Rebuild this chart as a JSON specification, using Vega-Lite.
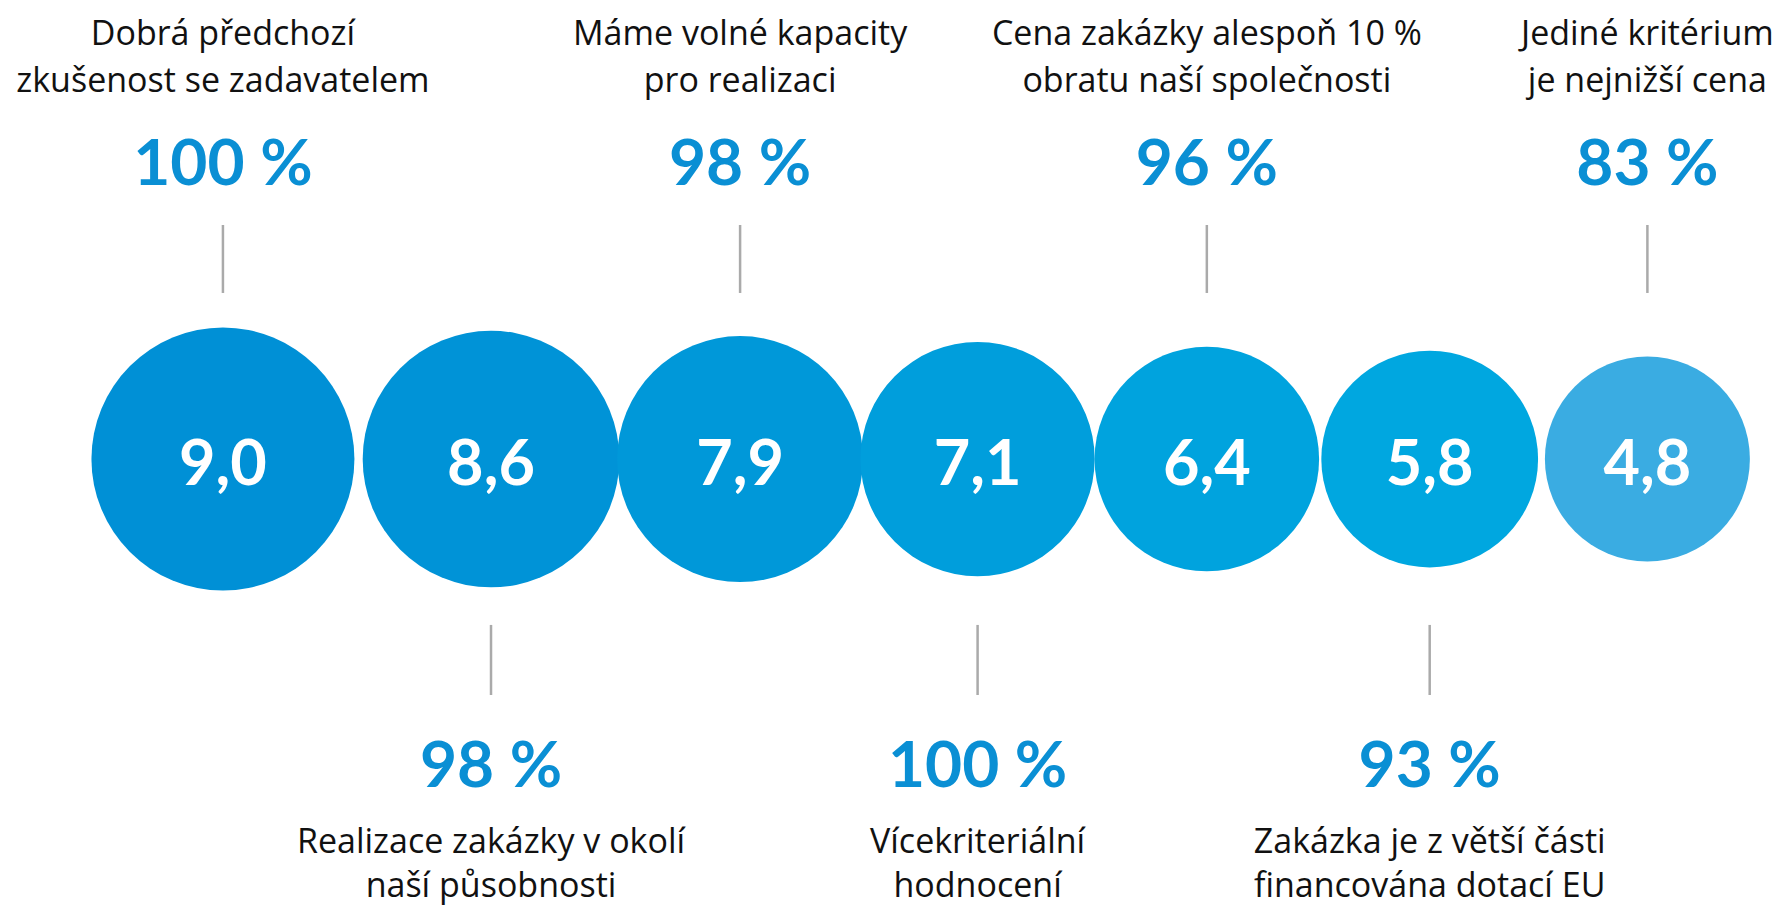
{
  "$schema": "https://vega.github.io/schema/vega-lite/v6.json",
  "autosize": {"type": "fit", "contains": "padding"},
  "width": 1781,
  "height": 909,
  "padding": 0,
  "background": "white",
  "config": {
    "view": {"stroke": null},
    "font": "Lato",
    "locale": {
      "number": {"decimal": ",", "thousands": " ", "grouping": [3], "currency": ["", " Kč"], "percent": " %"}
    }
  },
  "data": {
    "values": [
      {"rank": 1, "label": "Dobrá předchozí\nzkušenost se zadavatelem", "value": 9.0, "share": 1.00},
      {"rank": 2, "label": "Realizace zakázky v okolí\nnaší působnosti", "value": 8.6, "share": 0.98},
      {"rank": 3, "label": "Máme volné kapacity\npro realizaci", "value": 7.9, "share": 0.98},
      {"rank": 4, "label": "Vícekriteriální\nhodnocení", "value": 7.1, "share": 1.00},
      {"rank": 5, "label": "Cena zakázky alespoň 10 %\nobratu naší společnosti", "value": 6.4, "share": 0.96},
      {"rank": 6, "label": "Zakázka je z větší části\nfinancována dotací EU", "value": 5.8, "share": 0.93},
      {"rank": 7, "label": "Jediné kritérium\nje nejnižší cena", "value": 4.8, "share": 0.83}
    ]
  },
  "encoding": {
    "x": {"field": "rank", "type": "quantitative", "axis": null,
          "scale": {"type": "pow", "exponent": 0.86, "domain": [0.268, 7.624], "nice": false, "zero": false}}
  },
  "layer": [
    {
      "mark": {"type": "circle", "opacity": 1},
      "encoding": {
        "y": {"datum": 50.5, "type": "quantitative", "axis": null,
              "scale": {"domain": [0, 100], "reverse": true, "nice": false, "zero": false}},
        "size": {"field": "value", "type": "quantitative", "legend": null,
                 "scale": {"type": "pow", "exponent": 2, "domain": [4.8, 9.0], "range": [42025, 69169], "zero": false}},
        "color": {"field": "value", "type": "quantitative", "legend": null,
                  "scale": {"domain": [4.8, 5.8, 9.0], "range": ["#3aace2", "#00a7e0", "#0090d6"], "interpolate": "rgb"}}
      }
    },
    {
      "mark": {"type": "text", "fontSize": 63, "fontWeight": "bold", "color": "white", "baseline": "alphabetic", "align": "center"},
      "encoding": {
        "y": {"datum": 53.4, "type": "quantitative"},
        "text": {"field": "value", "type": "quantitative", "format": ".1f"}
      }
    },
    {
      "transform": [{"filter": "datum.rank % 2 == 1"}],
      "mark": {"type": "rule", "color": "#aaaaaa", "strokeWidth": 2.5},
      "encoding": {
        "y": {"datum": 24.75, "type": "quantitative"},
        "y2": {"datum": 32.23}
      }
    },
    {
      "transform": [{"filter": "datum.rank % 2 == 0"}],
      "mark": {"type": "rule", "color": "#aaaaaa", "strokeWidth": 2.5},
      "encoding": {
        "y": {"datum": 68.75, "type": "quantitative"},
        "y2": {"datum": 76.46}
      }
    },
    {
      "transform": [{"filter": "datum.rank % 2 == 1"}],
      "mark": {"type": "text", "fontSize": 64, "fontWeight": "bold", "color": "#0a8fd4", "baseline": "alphabetic", "align": "center"},
      "encoding": {
        "y": {"datum": 20.35, "type": "quantitative"},
        "text": {"field": "share", "type": "quantitative", "format": ".0%"}
      }
    },
    {
      "transform": [{"filter": "datum.rank % 2 == 0"}],
      "mark": {"type": "text", "fontSize": 64, "fontWeight": "bold", "color": "#0a8fd4", "baseline": "alphabetic", "align": "center"},
      "encoding": {
        "y": {"datum": 86.58, "type": "quantitative"},
        "text": {"field": "share", "type": "quantitative", "format": ".0%"}
      }
    },
    {
      "transform": [{"filter": "datum.rank % 2 == 1"}],
      "mark": {"type": "text", "font": "Open Sans", "fontSize": 34, "color": "#111111", "baseline": "alphabetic", "align": "center", "lineBreak": "\n", "lineHeight": 47},
      "encoding": {
        "y": {"datum": 4.9, "type": "quantitative"},
        "text": {"field": "label", "type": "nominal"}
      }
    },
    {
      "transform": [{"filter": "datum.rank % 2 == 0"}],
      "mark": {"type": "text", "font": "Open Sans", "fontSize": 34, "color": "#111111", "baseline": "alphabetic", "align": "center", "lineBreak": "\n", "lineHeight": 44},
      "encoding": {
        "y": {"datum": 93.8, "type": "quantitative"},
        "text": {"field": "label", "type": "nominal"}
      }
    }
  ]
}
